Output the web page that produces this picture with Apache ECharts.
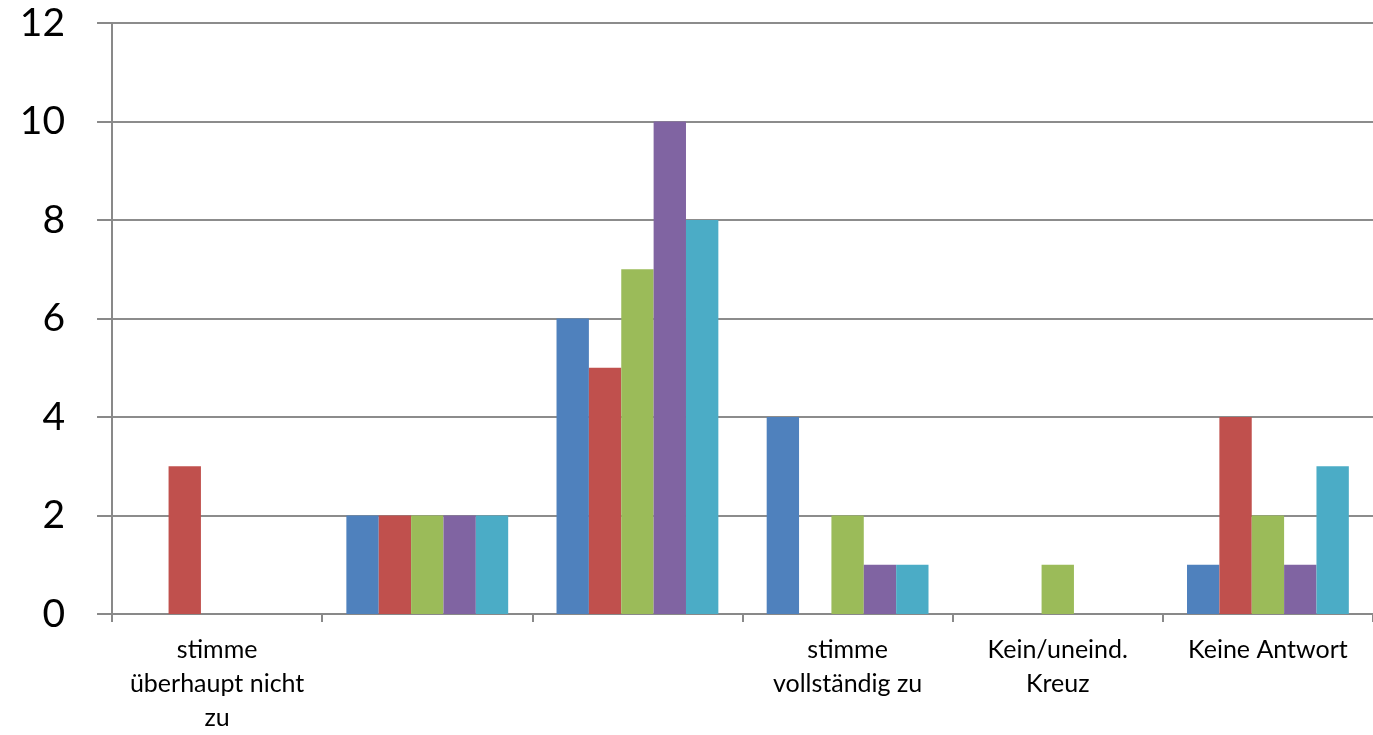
<!DOCTYPE html>
<html>
<head>
<meta charset="utf-8">
<script src="https://cdn.jsdelivr.net/npm/echarts@6/dist/echarts.min.js"></script>
<style>
  html, body { margin: 0; padding: 0; background: #fff; overflow: hidden; width: 100%; height: 100%; }
  #chart { width: 100vw; height: 100vh; }
</style>
</head>
<body>
<div id="chart"></div>
<script>
// Antwortkategorien (x-Achse)
const categories = [
  'stimme\nüberhaupt nicht\nzu',
  '',
  '',
  'stimme\nvollständig zu',
  'Kein/uneind.\nKreuz',
  'Keine Antwort'
];

// Anzahl der Nennungen je Reihe
const reihe1 = [0, 2, 6, 4, 0, 1];
const reihe2 = [3, 2, 5, 0, 0, 4];
const reihe3 = [0, 2, 7, 2, 1, 2];
const reihe4 = [0, 2, 10, 1, 0, 1];
const reihe5 = [0, 2, 8, 1, 0, 3];

const seriesNames = ['Reihe 1', 'Reihe 2', 'Reihe 3', 'Reihe 4', 'Reihe 5'];
const seriesData = [reihe1, reihe2, reihe3, reihe4, reihe5];
const colors = ['#4F81BD', '#C0504D', '#9BBB59', '#8064A2', '#4BACC6'];

const yMin = 0, yMax = 12, yStep = 2;

const chart = echarts.init(document.getElementById('chart'), null, { renderer: 'canvas' });

chart.setOption({
  animation: false,
  backgroundColor: '#ffffff',
  color: colors,
  // Plot area runs slightly past the right edge of the canvas
  grid: { left: '8.16%', top: '3.13%', width: '92.43%', height: '80.95%' },
  xAxis: {
    type: 'category',
    data: categories,
    axisLine: { lineStyle: { color: '#898989', width: 2 } },
    axisTick: { show: true, length: 8, lineStyle: { color: '#898989', width: 2 } },
    axisLabel: {
      interval: 0,
      margin: 19,
      color: '#000',
      fontFamily: 'Lato',
      fontSize: 25,
      lineHeight: 34
    }
  },
  yAxis: {
    type: 'value',
    min: yMin,
    max: yMax,
    interval: yStep,
    axisLine: { show: true, lineStyle: { color: '#898989', width: 2 } },
    axisTick: { show: true, length: 15, lineStyle: { color: '#898989', width: 2 } },
    splitLine: { show: true, lineStyle: { color: '#8c8c8c', width: 2 } },
    axisLabel: {
      margin: 47,
      color: '#000',
      fontFamily: 'Lato',
      fontSize: 39
    }
  },
  series: seriesData.map((d, i) => ({
    name: seriesNames[i],
    type: 'bar',
    data: d,
    barGap: '0%',
    barCategoryGap: '23%',
    itemStyle: { color: colors[i] }
  }))
});
window.addEventListener('resize', () => chart.resize());
</script>
</body>
</html>
